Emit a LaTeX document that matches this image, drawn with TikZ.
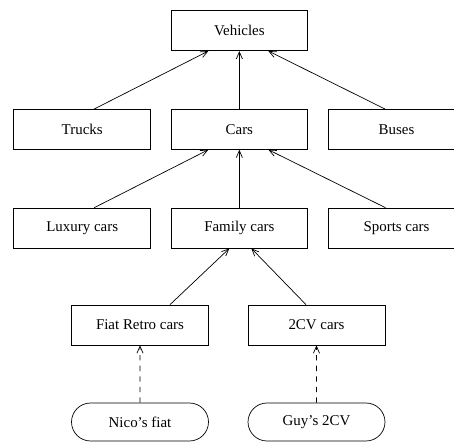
\documentclass[tikz,border=0pt]{standalone}
\usepackage{fontspec}
\setmainfont{Liberation Serif}
\usetikzlibrary{arrows.meta}
\usetikzlibrary{shapes.misc}
\usetikzlibrary{calc}

\begin{document}
\begin{tikzpicture} [
    x=0.02cm, y=-0.02cm,
    auto,
    class/.style    = { rectangle, thin, draw=black,
                        minimum width=2.74cm, minimum height=0.8cm,
                        inner sep=0pt, font=\fontsize{8.5}{10}\selectfont},
    object/.style   = { rounded rectangle, thin, draw=black,
                        minimum width=2.74cm, minimum height=0.76cm,
                        inner sep=0pt, font=\fontsize{8.5}{10}\selectfont},
    line/.style     = { draw, thin, -{Straight Barb[length=4pt, width=3.5pt]}},
  ]

\useasboundingbox (0,0) rectangle (454,442);

%Klassen innerhalb einer Matrix
%Knotenbenennung Zahl = Zeile; a=links, b = mitte, c = rechts
  \matrix [anchor=north west, inner sep=0pt,
		column sep=0.39cm,
		row sep=1.16cm
		] at (13,10) {
			& \node [class] (1b) {Vehicles};
				& \\
		\node [class] (2a) {Trucks};
			& \node [class] (2b) {Cars};
				& \node [class] (2c) {Buses}; \\
		\node [class] (3a) {Luxury cars};
			& \node [class] (3b) {Family cars};
				& \node [class] (3c) {Sports cars}; \\
  };

%%%%%%%%%%%%%%%%%%%%%%%%%%%%%%%%%%%%%%%%%%
  \node [class] (4a) at (140,325) {Fiat Retro cars};
  \node [class] (4b) at (316.5,325) {2CV cars};

  \node [object] (5a) at (140,422) {Nico's fiat};
  \node [object] (5b) at (316.5,422) {Guy's 2CV};

%Vererbung (zwischen Klassen)
  \begin{scope} [every path/.style={line}]
   \path ($(2a.north)+(12,0)$) -- ($(1b.south)+(-31,0)$);
   \path (2b) -- (1b);
   \path ($(2c.north)+(-11.5,0)$) -- ($(1b.south)+(29,0)$);
   \path ($(3a.north)+(12,0)$) -- ($(2b.south)+(-31,0)$);
   \path (3b) -- (2b);
   \path ($(3c.north)+(-11,0)$) -- ($(2b.south)+(29,0)$);
   \path ($(4a.north)+(30,0)$) -- ($(3b.south)+(-10,0)$);
   \path ($(4b.north)+(-10.5,0)$) -- ($(3b.south)+(12,0)$);
  \end{scope}

%Instanzen (gestrichelt)
  \begin{scope} [every path/.style={line, dashed}]
   \path (5a) -- (4a);
   \path (5b) -- (4b);
  \end{scope}
\end{tikzpicture}
\end{document}
